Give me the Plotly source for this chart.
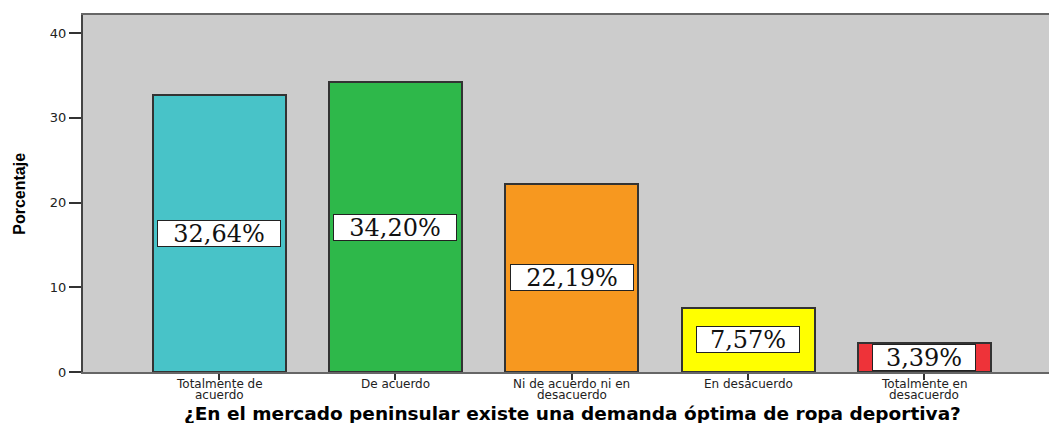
import plotly.graph_objects as go

categories = [
    "Totalmente de<br>acuerdo",
    "De acuerdo",
    "Ni de acuerdo ni en<br>desacuerdo",
    "En desacuerdo",
    "Totalmente en<br>desacuerdo",
]
porcentajes = [32.64, 34.20, 22.19, 7.57, 3.39]
colores = ["#48C3C8", "#2EB84A", "#F7981F", "#FFFF00", "#EE3339"]
y_ticks = [0, 10, 20, 30, 40]

x_pos = list(range(len(categories)))

fig = go.Figure()
fig.add_trace(go.Bar(
    x=x_pos,
    y=porcentajes,
    width=0.755,
    marker=dict(color=colores, line=dict(color="#333333", width=2)),
    hoverinfo="skip",
))

# value labels in white boxes, centred on each bar
for xi, v in zip(x_pos, porcentajes):
    txt = f"{v:.2f}".replace(".", ",") + "%"
    fig.add_annotation(
        x=xi, y=v / 2, xref="x", yref="y",
        text=txt, showarrow=False,
        font=dict(family="DejaVu Serif, Liberation Serif, serif", size=24, color="#111111"),
        bgcolor="white", bordercolor="#222222", borderwidth=1, borderpad=1,
        width=20 * len(txt), height=23,
    )

# category labels, one annotation per line for tight line spacing
for xi, cat in zip(x_pos, categories):
    for i, line in enumerate(cat.split("<br>")):
        fig.add_annotation(
            x=xi, y=0, xref="x", yref="paper",
            text=line, showarrow=False, yanchor="middle",
            yshift=-12 - 10.5 * i,
            font=dict(family="DejaVu Sans, sans-serif", size=12, color="#222222"),
        )

# axis titles
fig.add_annotation(
    x=0.507, y=-0.116, xref="paper", yref="paper",
    text="<b>¿En el mercado peninsular existe una demanda óptima de ropa deportiva?</b>",
    showarrow=False, yanchor="middle", xanchor="center",
    font=dict(family="DejaVu Sans, Verdana, sans-serif", size=18.5, color="#000000"),
)
fig.add_annotation(
    x=-0.066, y=0.5, xref="paper", yref="paper",
    text="<b>Porcentaje</b>", textangle=-90, showarrow=False,
    xanchor="center", yanchor="middle",
    font=dict(family="Liberation Sans Narrow, Arial Narrow, Liberation Sans, sans-serif",
              size=16, color="#000000"),
)

fig.update_layout(
    width=1049, height=423,
    margin=dict(l=83, r=0, t=15, b=51),
    paper_bgcolor="white",
    plot_bgcolor="#CCCCCC",
    showlegend=False,
    bargap=0,
    xaxis=dict(
        range=[-0.7725, 4.707],
        tickmode="array", tickvals=x_pos, ticktext=[""] * len(x_pos),
        ticks="outside", ticklen=6, tickwidth=2, tickcolor="#333333",
        showline=True, linecolor="#666666", linewidth=2, mirror=True,
        showgrid=False, zeroline=False,
    ),
    yaxis=dict(
        range=[0, 42.13],
        tickmode="array", tickvals=y_ticks,
        ticks="outside", ticklen=12, tickwidth=1.5, tickcolor="#333333",
        showline=True, linecolor="#444444", linewidth=2,
        showgrid=False, zeroline=False,
        tickfont=dict(family="DejaVu Sans, sans-serif", size=13, color="#222222"),
    ),
)

fig.write_html("out.html")
